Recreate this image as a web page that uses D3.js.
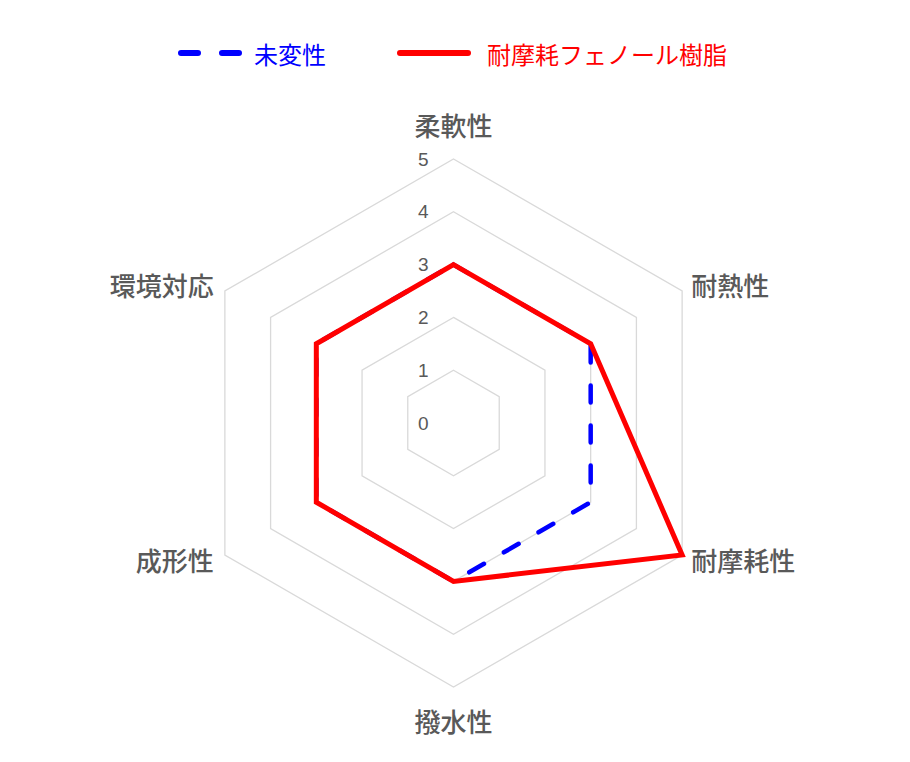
<!DOCTYPE html>
<html>
<head>
<meta charset="utf-8">
<script src="https://cdn.jsdelivr.net/npm/d3@7"></script>
<style>
  html, body { margin: 0; padding: 0; background: #fff; }
  svg { display: block; }
  text { font-family: "Noto Sans CJK JP", "Noto Sans", sans-serif; }
  text.tick { font-family: "Liberation Sans", Arial, sans-serif; }
</style>
</head>
<body>
<svg id="chart" width="910" height="762"></svg>
<script>
const axes = ["柔軟性", "耐熱性", "耐摩耗性", "撥水性", "成形性", "環境対応"];
const seriesNames = ["未変性", "耐摩耗フェノール樹脂"];
const unmodified = [3, 3, 3, 3, 3, 3];
const wearResistant = [3, 3, 5, 3, 3, 3];
const tickValues = [0, 1, 2, 3, 4, 5];
const gridLevels = [1, 2, 3, 4, 5];
const seriesColors = ["#0000ff", "#ff0000"];

const svg = d3.select("#chart");
const cx = 453.5, cy = 423;
const r = d3.scaleLinear().domain([0, 5]).range([0, 264]);
const angle = d3.scaleLinear().domain([0, axes.length]).range([0, 2 * Math.PI]);

const g = svg.append("g").attr("transform", `translate(${cx},${cy})`);

const radial = d3.lineRadial()
  .angle((d, i) => angle(i))
  .radius(d => r(d))
  .curve(d3.curveLinearClosed);

// grid
g.selectAll("path.grid").data(gridLevels).enter().append("path")
  .attr("class", "grid")
  .attr("d", lv => radial(axes.map(() => lv)))
  .attr("fill", "none")
  .attr("stroke", "#d9d9d9")
  .attr("stroke-width", 1.3);

// tick labels
g.selectAll("text.tick").data(tickValues).enter().append("text")
  .attr("class", "tick")
  .attr("x", -25)
  .attr("y", d => -r(d))
  .attr("text-anchor", "end")
  .attr("dominant-baseline", "central")
  .attr("font-size", 19)
  .attr("fill", "#595959")
  .text(d => d);

// series
const seriesData = [unmodified, wearResistant];
g.selectAll("path.series").data(seriesData).enter().append("path")
  .attr("class", "series")
  .attr("d", d => radial(d))
  .attr("fill", "none")
  .attr("stroke", (d, i) => seriesColors[i])
  .attr("stroke-width", (d, i) => i === 0 ? 4.5 : 5)
  .attr("stroke-linejoin", "miter")
  .attr("stroke-linecap", (d, i) => i === 0 ? "round" : "butt")
  .attr("stroke-dasharray", (d, i) => i === 0 ? "17,23" : null);

// axis labels
g.selectAll("text.axis").data(axes).enter().append("text")
  .attr("class", "axis")
  .each(function(name, i) {
    const a = angle(i) - Math.PI / 2;
    const x = r(5) * Math.cos(a);
    const y = r(5) * Math.sin(a);
    const sel = d3.select(this);
    const c = Math.cos(a), s = Math.sin(a);
    if (Math.abs(c) < 1e-6) {
      sel.attr("x", x).attr("y", y + (s < 0 ? -35 : 33)).attr("text-anchor", "middle");
    } else {
      sel.attr("x", x + (c > 0 ? 9 : -11))
        .attr("y", y + (s < 0 ? -7 : 4))
        .attr("text-anchor", c > 0 ? "start" : "end");
    }
  })
  .attr("dominant-baseline", "central")
  .attr("font-size", 26)
  .attr("font-weight", 500)
  .attr("fill", "#595959")
  .text(d => d);

// legend
const legendItems = [
  { name: seriesNames[0], color: seriesColors[0], x: 178, len: 64, dash: "17,24", textX: 254 },
  { name: seriesNames[1], color: seriesColors[1], x: 397, len: 74, dash: null, textX: 487 }
];
const lg = svg.append("g").attr("transform", "translate(0,53)");
legendItems.forEach(it => {
  lg.append("line")
    .attr("x1", it.x + 3).attr("x2", it.x + it.len - 3)
    .attr("y1", 0).attr("y2", 0)
    .attr("stroke", it.color)
    .attr("stroke-width", 6)
    .attr("stroke-linecap", "round")
    .attr("stroke-dasharray", it.dash);
  lg.append("text")
    .attr("x", it.textX)
    .attr("y", 0)
    .attr("dominant-baseline", "central")
    .attr("font-size", 24)
    .attr("fill", it.color)
    .text(it.name);
});
</script>
</body>
</html>
